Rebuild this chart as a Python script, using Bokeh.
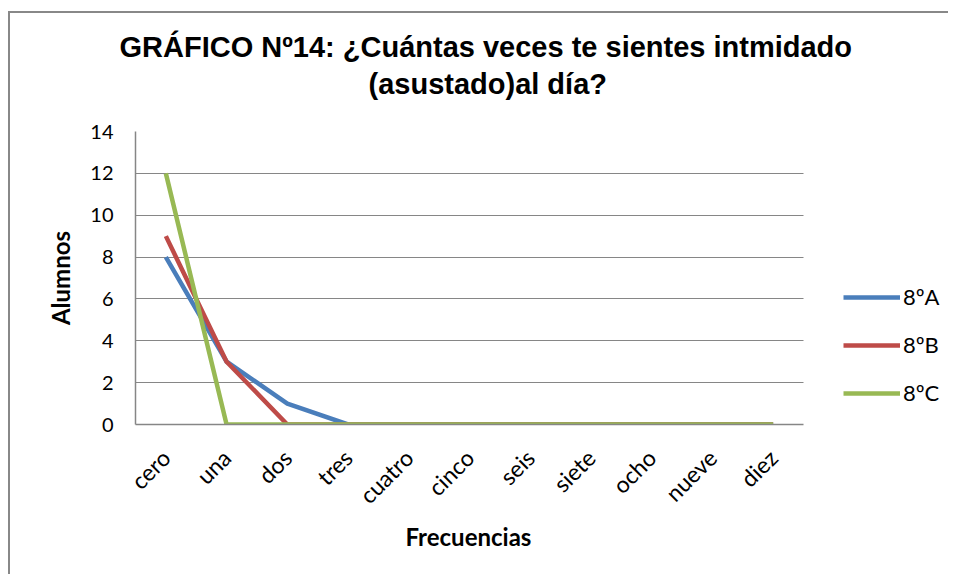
from bokeh.plotting import figure
from bokeh.models import Title, Legend, LegendItem, Range1d, FixedTicker
from bokeh.embed import file_html
from bokeh.resources import INLINE

categories = ["cero", "una", "dos", "tres", "cuatro", "cinco", "seis", "siete", "ocho", "nueve", "diez"]
serie_a = [8, 3, 1, 0, 0, 0, 0, 0, 0, 0, 0]
serie_b = [9, 3, 0, 0, 0, 0, 0, 0, 0, 0, 0]
serie_c = [12, 0, 0, 0, 0, 0, 0, 0, 0, 0, 0]
series_names = ["8ºA", "8ºB", "8ºC"]
colors = ["#4A7EBB", "#BE4B48", "#98B954"]
y_ticks = [0, 2, 4, 6, 8, 10, 12, 14]

FONT = "Lato"
TFONT = "Liberation Sans"

n = len(categories)
xs = list(range(n))
x_lo, x_hi = -0.5, n - 0.5
# plot area (668 px for the categories) plus room on the right for the legend (137 px)
x_end = x_hi + 137 * n / 668.0

p = figure(
    x_range=Range1d(x_lo, x_end),
    y_range=Range1d(0, 14),
    width=940, height=563,
    output_backend="svg", toolbar_location=None, title=None,
    min_border_left=125, min_border_right=10, min_border_top=118, min_border_bottom=152,
    background_fill_color="white", border_fill_color="white",
)
p.styles = {"border-top": "2px solid #888888", "border-left": "2px solid #888888",
            "margin-top": "11px", "margin-left": "8px"}
p.outline_line_color = None

spacer = Title(text=" ", align="left", text_font=TFONT, text_font_size="10px", standoff=17)
t2 = Title(text="(asustado)al día?", align="left", offset=233,
           text_font=TFONT, text_font_size="29px", text_font_style="bold",
           text_color="black", standoff=4)
t1 = Title(text="GRÁFICO Nº14: ¿Cuántas veces te sientes intmidado", align="left", offset=-16,
           text_font=TFONT, text_font_size="29px", text_font_style="bold",
           text_color="black", standoff=2)
p.add_layout(spacer, "above")
p.add_layout(t2, "above")
p.add_layout(t1, "above")

p.xgrid.grid_line_color = None
try:
    p.ygrid.cross_bounds = (x_lo, x_hi)
    p.ygrid.grid_line_color = "#868686"
    p.ygrid.grid_line_width = 1
except AttributeError:
    p.ygrid.grid_line_color = None
    p.segment(x0=[x_lo] * len(y_ticks), x1=[x_hi] * len(y_ticks), y0=y_ticks, y1=y_ticks,
              line_color="#868686", line_width=1)

renderers = []
for name, vals, col in zip(series_names, [serie_a, serie_b, serie_c], colors):
    r = p.line(xs, vals, line_color=col, line_width=4.5, line_join="round")
    renderers.append((name, r))

legend = Legend(
    items=[LegendItem(label=nm, renderers=[r]) for nm, r in renderers],
    location=(708, 18),
    glyph_width=57, glyph_height=26, label_height=26, spacing=21,
    padding=0, margin=0, label_standoff=3,
    label_text_font=FONT, label_text_font_size="22px", label_text_color="black",
    border_line_color=None, background_fill_alpha=0,
)
p.add_layout(legend, "center")

p.yaxis.ticker = FixedTicker(ticks=y_ticks)
p.xaxis.ticker = FixedTicker(ticks=xs)
p.xaxis.major_label_overrides = {i: c for i, c in zip(xs, categories)}
p.xaxis.bounds = (x_lo, x_hi)

for ax in [p.xaxis[0], p.yaxis[0]]:
    ax.axis_line_color = "#868686"
    ax.axis_line_width = 1.5
    ax.major_tick_line_color = None
    ax.minor_tick_line_color = None
    ax.major_tick_out = 0
    ax.major_tick_in = 0
    ax.major_label_text_font = FONT
    ax.major_label_text_color = "black"

p.yaxis.major_label_text_font_size = "20px"
p.xaxis.major_label_text_font_size = "23px"
p.yaxis.axis_label = "Alumnos"
p.yaxis.axis_label_text_font = FONT
p.yaxis.axis_label_text_font_size = "24px"
p.yaxis.axis_label_text_font_style = "bold"
p.yaxis.axis_label_text_color = "black"
p.yaxis.major_label_standoff = 22
p.yaxis.axis_label_standoff = 12
p.xaxis.major_label_orientation = 0.785398
p.xaxis.major_label_standoff = 29

xlabel = Title(text="Frecuencias", align="left", offset=270,
               text_font=FONT, text_font_size="24px", text_font_style="bold",
               text_color="black", standoff=-4)
p.add_layout(xlabel, "below")

open("out.html", "w").write(file_html(p, INLINE))
